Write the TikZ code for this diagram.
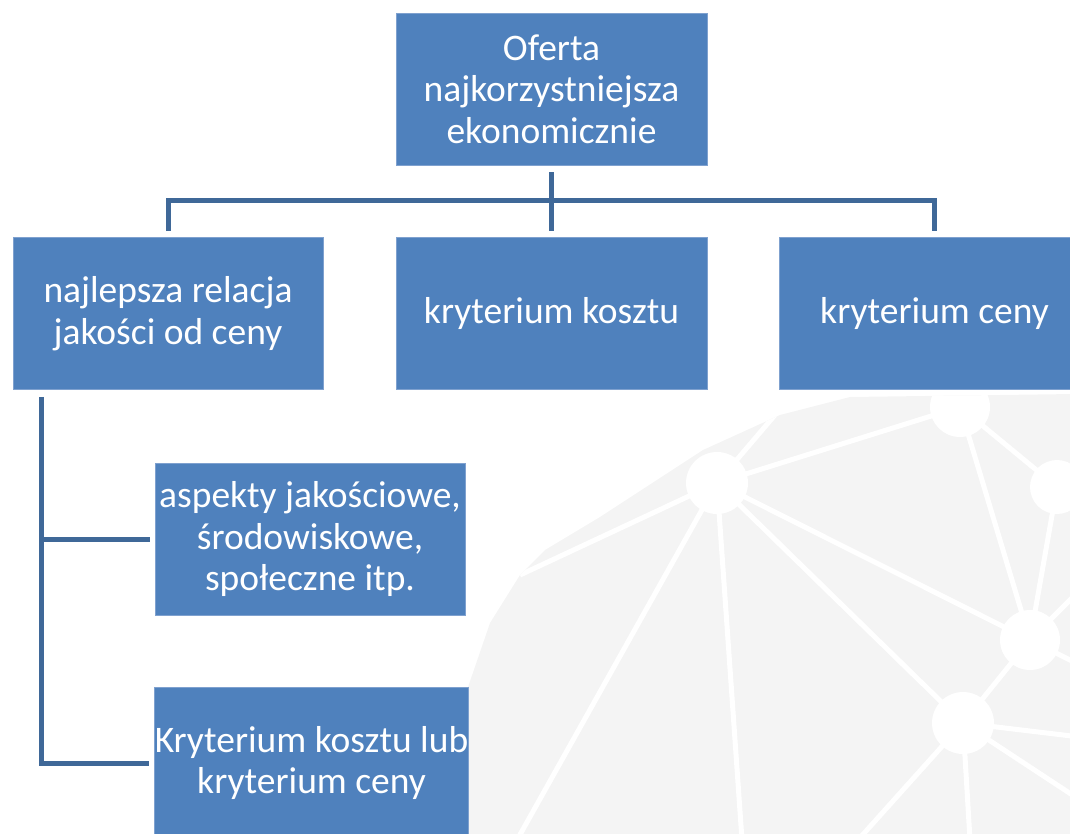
\documentclass[tikz,border=0pt]{standalone}
\usepackage{fontspec}
\setmainfont{Carlito}
\usetikzlibrary{calc}
\definecolor{boxfill}{HTML}{4F81BD}
\definecolor{boxline}{HTML}{7FA1CF}
\definecolor{connline}{HTML}{3F6898}
\definecolor{globegray}{HTML}{F4F4F4}
\tikzset{
  box/.style={rectangle, fill=boxfill, draw=boxline, line width=0.8pt,
    minimum width=311pt, minimum height=152pt, inner sep=0pt,
    align=center, text=white, font=\fontsize{37.5}{41.5}\selectfont},
  conn/.style={draw=connline, line width=5pt},
  gline/.style={draw=white, line width=5pt},
  gnode/.style={fill=white}
}
\begin{document}
\begin{tikzpicture}[x=1pt,y=-1pt]
\clip (0,0) rectangle (1070,834);
% background globe
\path[fill=globegray] (465,834) -- (467,690) -- (490,623) -- (520,575) -- (545,550)
  -- (600,517) -- (703,450) -- (780,415) -- (850,397) -- (1075,394) -- (1075,840) -- cycle;
\begin{scope}
\clip (465,834) -- (467,690) -- (490,623) -- (520,575) -- (545,550)
  -- (600,517) -- (703,450) -- (780,415) -- (850,397) -- (1075,394) -- (1075,840) -- cycle;
\coordinate (H) at (717,483);
\coordinate (B) at (960,407);
\coordinate (E) at (1057,487);
\coordinate (C) at (1030,640);
\coordinate (D) at (963,723);
\draw[gline] (H) -- (B);
\draw[gline] (H) -- (792,395);
\draw[gline] (H) -- (520,575);
\draw[gline] (H) -- (517,840);
\draw[gline] (H) -- (742,840);
\draw[gline] (H) -- (D);
\draw[gline] (H) -- (C);
\draw[gline] (B) -- (C);
\draw[gline] (B) -- (E);
\draw[gline] (E) -- (C);
\draw[gline] (E) -- (1080,455);
\draw[gline] (C) -- (D);
\draw[gline] (C) -- (1080,665);
\draw[gline] (C) -- (1080,590);
\draw[gline] (D) -- (1080,737);
\draw[gline] (D) -- (1080,800);
\draw[gline] (D) -- (970,840);
\draw[gline] (D) -- (858,840);
\fill[gnode] (H) circle (31);
\fill[gnode] (B) circle (30);
\fill[gnode] (E) circle (27);
\fill[gnode] (C) circle (30);
\fill[gnode] (D) circle (31);
\end{scope}
% boxes
\node[box] (top) at (551.5,89) {Oferta\\najkorzystniejsza\\ekonomicznie};
\node[box, minimum width=310pt] (relacja) at (168,313.5) {najlepsza relacja\\jakości od ceny};
\node[box] (kosztu) at (551.5,313.5) {kryterium kosztu};
\node[box] (ceny) at (934.5,313.5) {kryterium ceny};
\node[box, minimum width=310pt] (aspekty) at (310,539) {aspekty jakościowe,\\środowiskowe,\\społeczne itp.};
\node[box] (lub) at (311.5,763) {Kryterium kosztu lub\\kryterium ceny};
% connectors
\draw[conn] ([yshift=-7pt]top.south) -- ([yshift=6pt]kosztu.north);
\draw[conn] ([yshift=6pt]relacja.north) -- ++(0,-31) -| ([yshift=6pt]ceny.north);
\coordinate (spine) at ($(relacja.south west)+(29,7)$);
\draw[conn] (spine) |- ([xshift=-5pt]lub.west);
\draw[conn] (spine |- aspekty.west) -- ([xshift=-5pt]aspekty.west);
\end{tikzpicture}
\end{document}
